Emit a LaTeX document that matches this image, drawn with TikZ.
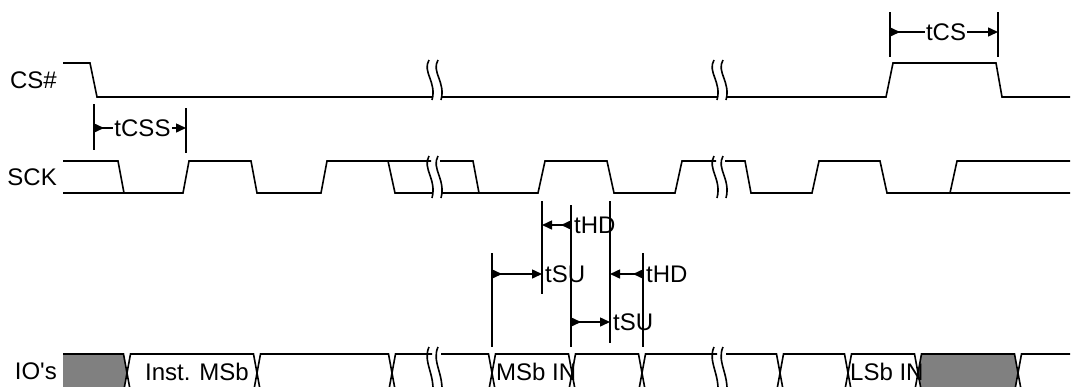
\documentclass[tikz,border=0pt]{standalone}
\usepackage{fontspec}
\setmainfont{Liberation Sans}
\usetikzlibrary{arrows.meta}
% break mark: two wavy strokes, (x, top, bottom)
\def\sigbreak(#1,#2,#3){\draw[brk] (#1,#2) .. controls (#1-7,#2+0.3*#3-0.3*#2) and (#1+8,#2+0.55*#3-0.55*#2) .. (#1+3,#3);
  \draw[brk] (#1+9,#2) .. controls (#1+2,#2+0.3*#3-0.3*#2) and (#1+17,#2+0.55*#3-0.55*#2) .. (#1+12,#3);}
% one bus cell between two crossings
\def\busseg[#1](#2:#3){\draw[#1] (#2,373) -- (#2+3.5,354) -- (#3-3.5,354) -- (#3,373) -- (#3-3.5,392) -- (#2+3.5,392) -- cycle;}
\tikzset{
  sig/.style={line width=1.6pt, line join=miter},
  brk/.style={line width=1.6pt},
  guide/.style={line width=1.5pt},
  dimarrow/.style={line width=1.5pt, -{Triangle[length=10pt,width=9pt]}},
  lbl/.style={font=\fontsize{24}{28}\selectfont, inner sep=0pt},
  tlbl/.style={lbl, anchor=west}
}

\begin{document}
\begin{tikzpicture}[x=1pt,y=-1pt]
		%%%%% START %%%%%
		\useasboundingbox (0,0) rectangle (1073,386);
		\clip (0,0) rectangle (1073,386);
		
		% signal names
		\node[lbl, anchor=east] (cs) at (57,80) {CS\#};
		\node[lbl, anchor=east] (sck) at (57,177) {SCK};
		\node[lbl, anchor=east] (io) at (57,371) {IO\textquotesingle s};
		
		% CS#
		\draw[sig] (63,63) -- (90,63) -- (97,97) -- (432,97);
		\draw[sig] (441,97) -- (717,97);
		\draw[sig] (726,97) -- (886,97) -- (893,63) -- (996,63) -- (1002,97) -- (1070,97);
		\sigbreak(429,60,100);
		\sigbreak(714,60,100);
		
		% SCK
		\draw[sig] (63,161) -- (118,161) -- (124,193);
		\draw[sig] (63,193) -- (183,193) -- (189,161) -- (251,161) -- (257,193) -- (321,193) -- (327,161) -- (431,161);
		\draw[sig] (388,161) -- (395,193) -- (432,193);
		\draw[sig] (440,161) -- (473,161) -- (479,193);
		\draw[sig] (441,193) -- (538,193) -- (545,161) -- (607,161) -- (614,193) -- (675,193) -- (682,161) -- (716,161);
		\draw[sig] (725,161) -- (745,161) -- (751,193) -- (812,193) -- (819,161) -- (880,161) -- (887,193) -- (1070,193);
		\draw[sig] (950,193) -- (957,161) -- (1070,161);
		\sigbreak(429,156,198);
		\sigbreak(714,156,198);
		
		% IO's
		\fill[black!50] (63,354) -- (123.5,354) -- (127,373) -- (123.5,392) -- (63,392) -- cycle;
		\draw[sig] (63,354) -- (123.5,354) -- (127,373) -- (123.5,392) -- (63,392);
		\busseg[sig](127:257);
		\busseg[sig](257:392);
		\draw[sig] (432,354) -- (395.5,354) -- (392,373) -- (395.5,392) -- (432,392);
		\draw[sig] (441,354) -- (488.5,354) -- (492,373) -- (488.5,392) -- (441,392);
		\busseg[sig](492:572);
		\busseg[sig](572:642);
		\draw[sig] (717,354) -- (645.5,354) -- (642,373) -- (645.5,392) -- (717,392);
		\draw[sig] (726,354) -- (776.5,354) -- (780,373) -- (776.5,392) -- (726,392);
		\busseg[sig](780:848);
		\busseg[sig](848:918);
		\busseg[sig,fill=black!50](918:1018);
		\draw[sig] (1070,354) -- (1021.5,354) -- (1018,373) -- (1021.5,392) -- (1070,392);
		\sigbreak(429,347,399);
		\sigbreak(714,347,399);
		
		\node[lbl] (inst) at (197,372) {Inst. MSb};
		\node[tlbl] (msb) at (496,372) {MSb IN};
		\node[tlbl] (lsb) at (850,372) {LSb IN};
		
		% tCSS
		\draw[guide] (94,104) -- (94,150);
		\draw[guide] (186,108) -- (186,153);
		\coordinate (cssL) at (94,128);
		\coordinate (cssR) at (186,128);
		\draw[dimarrow] (cssL) -- (cssR);
		\draw[dimarrow] (cssL) -- +(10,0);
		\node[lbl, fill=white, inner sep=1pt] (tcss) at (142.5,128) {tCSS};
		
		% tCS
		\draw[guide] (890,12) -- (890,57);
		\draw[guide] (998,12) -- (998,57);
		\coordinate (csL) at (890,32);
		\coordinate (csR) at (998,32);
		\draw[dimarrow] (csL) -- (csR);
		\draw[dimarrow] (csL) -- +(10,0);
		\node[lbl, fill=white, inner sep=1pt] (tcs) at (946,32) {tCS};
		
		% setup / hold
		\draw[guide] (492,253) -- (492,347);
		\draw[guide] (542,201) -- (542,294);
		\draw[guide] (571,205) -- (571,347);
		\draw[guide] (610,201) -- (610,343);
		\draw[guide] (643,253) -- (643,347);
		\coordinate (hd1R) at (571,225);
		\coordinate (hd1L) at (542,225);
		\coordinate (su1L) at (492,274);
		\coordinate (su1R) at (542,274);
		\coordinate (hd2R) at (643,274);
		\coordinate (hd2L) at (610,274);
		\coordinate (su2L) at (571,322);
		\coordinate (su2R) at (610,322);
		\draw[dimarrow] (hd1R) -- (hd1L);
		\draw[dimarrow] (hd1R) -- +(-10,0);
		\draw[dimarrow] (su1L) -- (su1R);
		\draw[dimarrow] (su1L) -- +(10,0);
		\draw[dimarrow] (hd2R) -- (hd2L);
		\draw[dimarrow] (hd2R) -- +(-10,0);
		\draw[dimarrow] (su2L) -- (su2R);
		\draw[dimarrow] (su2L) -- +(10,0);
		\node[tlbl] (thd1) at (574,225) {tHD};
		\node[tlbl] (tsu1) at (545,274) {tSU};
		\node[tlbl] (thd2) at (646,274) {tHD};
		\node[tlbl] (tsu2) at (613,322) {tSU};
		
		%%%%% END %%%%%
	\end{tikzpicture}
\end{document}
